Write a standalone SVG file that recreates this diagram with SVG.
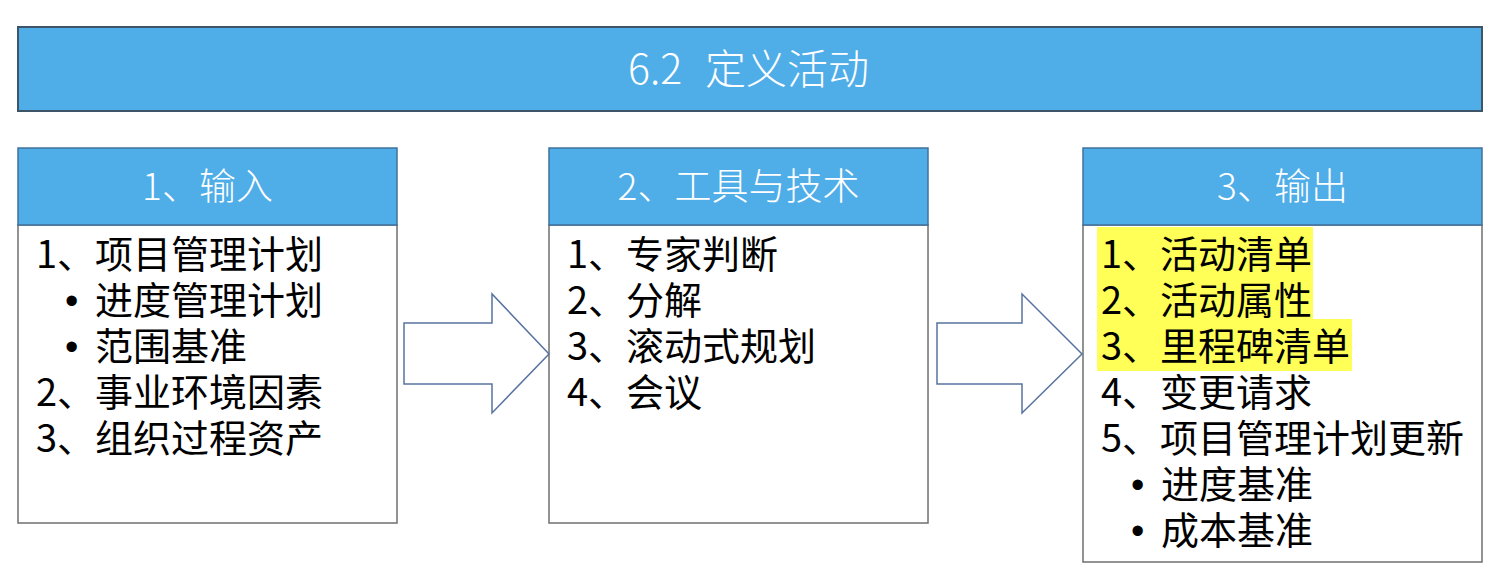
<svg xmlns="http://www.w3.org/2000/svg" width="1498" height="588" viewBox="0 0 1498 588">
<style>
.hdr{fill:#4FADE8;stroke:#41719C;stroke-width:1.5}
.body{fill:#ffffff;stroke:#6F6F6F;stroke-width:1.5}
.ht{font-family:"Noto Sans CJK SC","Noto Sans",sans-serif;font-size:37px;fill:#ffffff;text-anchor:middle;font-weight:300}
.tt{font-family:"Noto Sans CJK SC","Noto Sans",sans-serif;font-size:41px;fill:#ffffff;font-weight:300}
.bt{font-family:"Noto Sans CJK SC","Noto Sans",sans-serif;font-size:38px;fill:#000000}
.bu{font-family:"Liberation Sans",Arial,sans-serif}
.arrow{fill:#ffffff;stroke:#5873A0;stroke-width:1.5;stroke-linejoin:miter}
.hl{fill:#FFFF57}
</style>
<rect width="1498" height="588" fill="#ffffff"/>
<g id="title">
<rect x="18" y="27" width="1464" height="84" fill="#4FADE8" stroke="#3E5468" stroke-width="2"/>
<text class="tt" y="84"><tspan x="628">6.2</tspan><tspan x="705">定义活动</tspan></text>
</g>
<g id="input">
<rect class="body" x="18" y="225" width="379" height="298"/>
<rect class="hdr" x="18" y="148" width="379" height="77"/>
<text class="ht" x="207.5" y="200">1、输入</text>
<text class="bt" x="36" y="268">1、项目管理计划</text>
<text class="bt" y="314"><tspan class="bu" x="65">•</tspan><tspan x="95">进度管理计划</tspan></text>
<text class="bt" y="360"><tspan class="bu" x="65">•</tspan><tspan x="95">范围基准</tspan></text>
<text class="bt" x="36" y="406">2、事业环境因素</text>
<text class="bt" x="36" y="452">3、组织过程资产</text>
</g>
<g id="tools">
<rect class="body" x="549" y="225" width="379" height="298"/>
<rect class="hdr" x="549" y="148" width="379" height="77"/>
<text class="ht" x="738.5" y="200">2、工具与技术</text>
<text class="bt" x="567" y="268">1、专家判断</text>
<text class="bt" x="567" y="314">2、分解</text>
<text class="bt" x="567" y="360">3、滚动式规划</text>
<text class="bt" x="567" y="406">4、会议</text>
</g>
<g id="output">
<rect class="body" x="1083" y="225" width="399" height="337"/>
<rect class="hdr" x="1083" y="148" width="399" height="77"/>
<text class="ht" x="1282.5" y="200">3、输出</text>
<rect class="hl" x="1097" y="227" width="216" height="92"/>
<rect class="hl" x="1097" y="319" width="255" height="52"/>
<text class="bt" x="1101" y="268">1、活动清单</text>
<text class="bt" x="1101" y="314">2、活动属性</text>
<text class="bt" x="1101" y="360">3、里程碑清单</text>
<text class="bt" x="1101" y="406">4、变更请求</text>
<text class="bt" x="1101" y="452">5、项目管理计划更新</text>
<text class="bt" y="498"><tspan class="bu" x="1131">•</tspan><tspan x="1161">进度基准</tspan></text>
<text class="bt" y="544"><tspan class="bu" x="1131">•</tspan><tspan x="1161">成本基准</tspan></text>
</g>
<g id="connectors">
<polygon class="arrow" points="404,323 492,323 492,294 549,354 492,413 492,384 404,384"/>
<polygon class="arrow" points="937,323 1022,323 1022,294 1082,354 1022,413 1022,384 937,384"/>
</g>
</svg>
